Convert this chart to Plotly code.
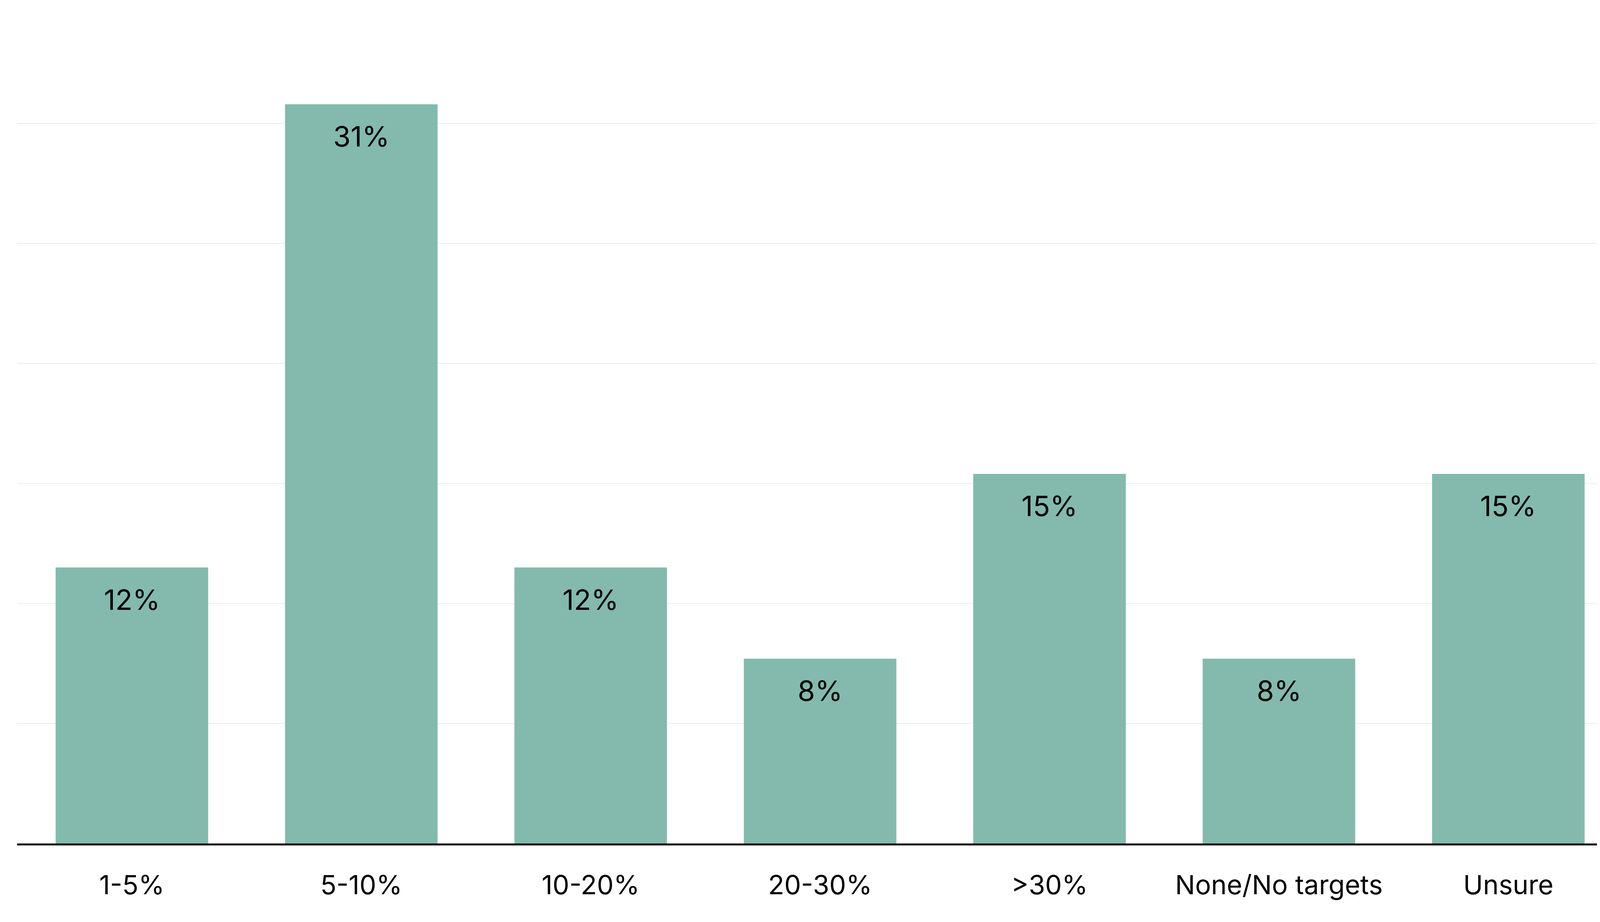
import plotly.graph_objects as go

# данные
categories = ["1-5%", "5-10%", "10-20%", "20-30%", ">30%", "None/No targets", "Unsure"]
values = [11.5, 30.8, 11.5, 7.7, 15.4, 7.7, 15.4]
value_labels = ["12%", "31%", "12%", "8%", "15%", "8%", "15%"]
y_ticks = [0, 5, 10, 15, 20, 25, 30, 35]

bar_color = "#83baad"
font_family = "Inter, Roboto, sans-serif"

fig = go.Figure()
fig.add_trace(go.Bar(x=categories, y=values, marker_color=bar_color,
                     marker_line_width=0, hoverinfo="skip"))

# подписи значений внутри столбцов, сверху
for cat, val, lab in zip(categories, values, value_labels):
    fig.add_annotation(x=cat, y=val, text=lab, showarrow=False,
                       yanchor="top", yshift=-36,
                       font=dict(family=font_family, size=72, color="black"))

fig.update_layout(
    width=4180, height=2360,
    margin=dict(l=36, r=33, t=1, b=209),
    plot_bgcolor="white", paper_bgcolor="white",
    bargap=0.335, showlegend=False,
    font=dict(family=font_family, color="black"),
)
fig.update_xaxes(showline=True, linecolor="black", linewidth=5,
                 ticks="", tickfont=dict(size=68), ticklabelstandoff=43,
                 showgrid=False)
fig.update_yaxes(range=[0, 35], tickvals=y_ticks, showticklabels=False,
                 gridcolor="#ebebeb", gridwidth=2, zeroline=False)

fig.write_html("out.html")
